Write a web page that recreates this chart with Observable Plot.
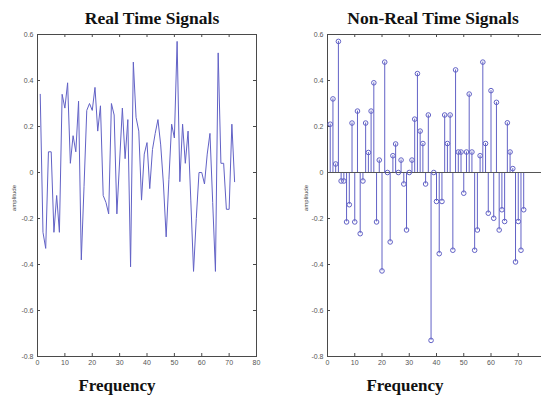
<!DOCTYPE html>
<html><head><meta charset="utf-8">
<script src="https://cdn.jsdelivr.net/npm/d3@7"></script>
<script src="https://cdn.jsdelivr.net/npm/@observablehq/plot@0.6"></script>
<style>
html,body{margin:0;padding:0;background:#fff;width:541px;height:396px;overflow:hidden}
#wrap{position:relative;width:541px;height:396px;overflow:hidden;background:#fff}
.t{position:absolute;font-family:"Liberation Serif","DejaVu Serif",serif;font-weight:bold;font-size:17.5px;color:#111;white-space:nowrap;transform:translate(-50%,-50%)}
.f{font-size:17px}
.yl{position:absolute;font-family:"Liberation Sans",Arial,sans-serif;font-size:6px;color:#444;white-space:nowrap;transform:translate(-50%,-50%) rotate(-90deg)}
.chart{position:absolute;top:0}
</style></head><body><div id="wrap"></div>
<script>
// ---- data ----
const realTitle = "Real Time Signals";
const nonRealTitle = "Non-Real Time Signals";
const xLabel = "Frequency";
const yLabel = "amplitude";
const xTicks = [0, 10, 20, 30, 40, 50, 60, 70, 80];
const xTickLabelsRight = [0, 10, 20, 30, 40, 50, 60, 70];
const yTicks = [-0.8, -0.6, -0.4, -0.2, 0, 0.2, 0.4, 0.6];
const realValues = [0.34,-0.26,-0.33,0.09,0.09,-0.26,-0.10,-0.26,0.34,0.28,
  0.39,0.04,0.16,0.09,0.31,-0.38,-0.06,0.27,0.30,0.27,
  0.37,0.18,0.29,-0.10,-0.13,-0.18,0.30,0.25,-0.18,0.05,
  0.28,0.06,0.23,-0.41,0.48,0.24,0.18,-0.12,0.08,0.13,
  -0.07,0.10,0.17,0.23,0.12,-0.05,-0.28,-0.03,0.21,0.15,
  0.57,-0.04,0.21,0.04,0.18,-0.12,-0.43,-0.20,0.00,0.00,
  -0.05,0.08,0.17,-0.13,-0.43,0.52,0.04,0.04,-0.16,-0.16,
  0.21,-0.04];
const nonRealValues = [0.21,0.32,0.037,0.57,-0.037,-0.037,-0.215,-0.14,0.215,-0.215,
  0.267,-0.266,-0.037,0.215,0.087,0.267,0.39,-0.215,0.054,-0.428,
  0.48,0.0,-0.302,0.073,0.124,0.0,0.054,-0.05,-0.25,0.0,
  0.054,0.232,0.43,0.18,0.126,-0.05,0.25,-0.73,0.0,-0.126,
  -0.353,-0.126,0.25,0.126,0.25,-0.338,0.446,0.089,0.089,-0.09,
  0.089,0.341,0.089,-0.338,-0.25,0.073,0.48,0.126,-0.177,0.356,
  -0.199,0.305,-0.25,-0.162,-0.213,0.216,0.089,0.017,-0.389,-0.213,
  -0.338,-0.162];

const realData = realValues.map((y, i) => ({x: i + 1, y}));
const nonRealData = nonRealValues.map((y, i) => ({x: i + 1, y}));

const fmt = d => d === 0 ? "0" : String(d);
const lineColor = "#6262c6";
const axisColor = "#4a4a4a";

function tickMarks() {
  return [
    Plot.ruleX(xTicks, {x: d => d, y1: -0.8, y2: -0.8, insetBottom: 3, stroke: axisColor}),
    Plot.ruleX(xTicks, {x: d => d, y1: 0.6, y2: 0.6, insetTop: 3, stroke: axisColor}),
    Plot.ruleY(yTicks, {y: d => d, x1: 0, x2: 0, insetLeft: 3, stroke: axisColor}),
    Plot.ruleY(yTicks, {y: d => d, x1: 80, x2: 80, insetRight: 3, stroke: axisColor})
  ];
}

function baseOptions(width, labelTicks) {
  return {
    width, height: 370,
    marginLeft: 37, marginRight: 6, marginTop: 34, marginBottom: 14,
    x: {domain: [0, 80], ticks: labelTicks, tickSize: 0, tickPadding: 4, tickFormat: fmt, label: null},
    y: {domain: [-0.8, 0.6], ticks: yTicks, tickSize: 0, tickPadding: 4, tickFormat: fmt, label: null},
    style: {background: "transparent", fontFamily: "Liberation Sans, Arial, sans-serif", fontSize: "7px", color: "#555", overflow: "visible"}
  };
}

const left = Plot.plot({
  ...baseOptions(262, xTicks),
  marks: [
    Plot.frame({stroke: axisColor}),
    ...tickMarks(),
    Plot.line(realData, {x: "x", y: "y", stroke: lineColor, strokeWidth: 1})
  ]
});

const right = Plot.plot({
  ...baseOptions(261, xTickLabelsRight),
  marks: [
    Plot.frame({stroke: axisColor}),
    ...tickMarks(),
    Plot.ruleX(nonRealData, {x: "x", y1: 0, y2: "y", stroke: lineColor, strokeWidth: 1}),
    Plot.ruleY([0], {stroke: "#555"}),
    Plot.dot(nonRealData, {x: "x", y: "y", r: 2.3, stroke: lineColor, fill: "none", strokeWidth: 1})
  ]
});

const wrap = document.getElementById("wrap");
left.classList.add("chart"); left.style.left = "0px";
right.classList.add("chart"); right.style.left = "290px";
wrap.appendChild(left);
wrap.appendChild(right);

function addText(cls, text, x, y) {
  const d = document.createElement("div");
  d.className = cls; d.textContent = text;
  d.style.left = x + "px"; d.style.top = y + "px";
  wrap.appendChild(d);
}
addText("t", realTitle, 152, 18);
addText("t", nonRealTitle, 433, 18);
addText("t f", xLabel, 117, 386);
addText("t f", xLabel, 405, 386);
addText("yl", yLabel, 14, 198);
addText("yl", yLabel, 306, 198);
</script>
</body></html>
